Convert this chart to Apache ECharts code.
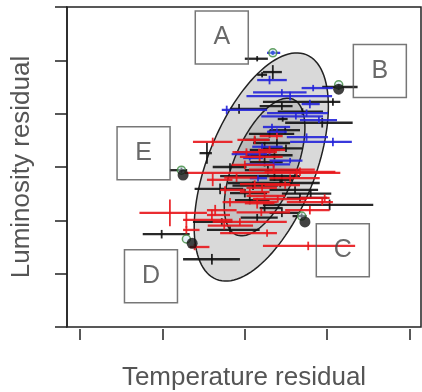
<!DOCTYPE html>
<html>
<head>
<meta charset="utf-8">
<script src="https://cdn.jsdelivr.net/npm/echarts@6/dist/echarts.min.js"></script>
<style>
html, body { margin: 0; padding: 0; background: #fff; }
#chart { width: 422px; height: 392px; }
</style>
</head>
<body>
<div id="chart"></div>
<script>
// x error bars with a short y error tick: [x, y, xLow, xHigh, yErr]
var blueBars = [
  [0.34, 2.14, 0.27, 0.43, 0.04],
  [0.30, 1.63, 0.15, 0.51, 0.08],
  [0.83, 1.48, 0.69, 1.07, 0.06],
  [0.45, 1.40, 0.10, 0.75, 0.06],
  [0.55, 1.33, 0.02, 1.06, 0.08],
  [0.79, 1.18, 0.69, 0.91, 0.08],
  [-0.22, 1.07, -0.28, 0.27, 0.08],
  [0.75, 1.01, 0.27, 1.01, 0.07],
  [0.62, 0.95, 0.20, 0.95, 0.06],
  [0.90, 0.88, 0.67, 1.12, 0.06],
  [0.33, 0.75, 0.22, 0.55, 0.06],
  [0.39, 0.66, 0.27, 0.51, 0.06],
  [0.75, 0.56, 0.51, 1.01, 0.07],
  [1.07, 0.47, 0.55, 1.30, 0.08],
  [0.21, 0.38, 0.09, 0.46, 0.06],
  [0.30, 0.28, -0.12, 0.34, 0.06],
  [0.02, 0.24, -0.16, 0.27, 0.07],
  [0.06, 0.17, -0.02, 0.22, 0.05],
  [0.55, 0.12, 0.30, 0.70, 0.05],
  [0.35, 0.05, 0.00, 0.55, 0.06],
  [0.16, -0.21, 0.06, 0.27, 0.06]
];
var redBars = [
  [-0.39, 0.47, -0.63, -0.15, 0.08],
  [0.39, 0.58, 0.18, 0.46, 0.06],
  [0.12, 0.51, -0.09, 0.30, 0.08],
  [0.30, 0.32, 0.16, 0.49, 0.07],
  [0.02, 0.28, -0.15, 0.39, 0.07],
  [0.18, 0.19, -0.06, 0.46, 0.08],
  [0.00, 0.04, -0.16, 0.36, 0.08],
  [0.35, -0.05, 0.05, 0.85, 0.08],
  [0.63, -0.11, -0.73, 1.16, 0.07],
  [0.67, -0.09, 0.24, 1.10, 0.08],
  [-0.10, -0.20, -0.25, 0.15, 0.08],
  [0.55, -0.21, 0.30, 0.91, 0.07],
  [-0.39, -0.24, -0.46, -0.15, 0.12],
  [0.12, -0.32, -0.06, 0.55, 0.07],
  [0.49, -0.34, 0.24, 0.67, 0.07],
  [0.21, -0.39, 0.02, 0.39, 0.08],
  [-0.24, -0.43, -0.30, 0.00, 0.07],
  [0.06, -0.47, -0.06, 0.30, 0.06],
  [0.24, -0.54, 0.02, 0.49, 0.06],
  [0.97, -0.58, 0.67, 1.03, 0.07],
  [0.40, -0.60, 0.10, 0.75, 0.07],
  [-0.18, -0.66, -0.27, 0.39, 0.08],
  [0.15, -0.68, 0.00, 0.36, 0.10],
  [0.94, -0.66, 0.51, 1.07, 0.06],
  [-0.36, -0.81, -0.46, -0.10, 0.10],
  [0.79, -0.81, 0.49, 1.03, 0.08],
  [0.20, -0.85, -0.10, 0.55, 0.07],
  [-0.91, -0.86, -1.28, -0.46, 0.25],
  [-0.40, -0.90, -0.46, -0.18, 0.10],
  [-0.71, -0.99, -0.75, -0.15, 0.15],
  [-0.06, -1.03, -0.39, 0.51, 0.07],
  [-0.25, -1.10, -0.45, 0.10, 0.07],
  [-0.71, -1.18, -0.75, -0.55, 0.07],
  [0.27, -1.24, -0.30, 0.39, 0.07],
  [0.77, -1.48, 0.22, 1.34, 0.08],
  [-0.61, -1.50, -0.67, -0.43, 0.06]
];
var blackBars = [
  [0.15, 2.03, 0.00, 0.28, 0.05],
  [0.34, 1.78, 0.22, 0.45, 0.13],
  [0.21, 1.73, 0.15, 0.27, 0.05],
  [1.14, 1.50, 0.94, 1.37, 0.05],
  [1.07, 1.22, 0.22, 1.16, 0.07],
  [0.45, 1.14, 0.18, 0.58, 0.07],
  [-0.07, 1.09, -0.18, 0.27, 0.09],
  [0.70, 1.04, 0.40, 0.95, 0.06],
  [0.46, 0.90, 0.40, 0.52, 0.05],
  [0.94, 0.83, 0.49, 1.31, 0.09],
  [0.49, 0.69, 0.30, 0.67, 0.07],
  [0.30, 0.62, 0.05, 0.60, 0.07],
  [0.12, 0.51, 0.00, 0.30, 0.06],
  [0.39, 0.45, 0.10, 0.55, 0.08],
  [0.50, 0.35, 0.20, 0.70, 0.07],
  [0.24, 0.32, 0.06, 0.43, 0.15],
  [-0.46, 0.26, -0.55, -0.40, 0.20],
  [0.36, 0.22, 0.02, 0.58, 0.08],
  [0.24, 0.09, 0.06, 0.46, 0.08],
  [-0.18, 0.00, -0.39, 0.02, 0.07],
  [-0.77, -0.06, -0.91, -0.70, 0.05],
  [0.28, -0.06, 0.00, 0.67, 0.08],
  [0.36, -0.17, -0.30, 0.67, 0.09],
  [0.45, -0.24, 0.30, 0.58, 0.10],
  [0.43, -0.30, -0.21, 0.91, 0.08],
  [0.10, -0.35, -0.15, 0.40, 0.08],
  [-0.30, -0.41, -0.61, -0.02, 0.10],
  [0.61, -0.43, 0.30, 0.89, 0.07],
  [0.00, -0.49, -0.18, 0.27, 0.08],
  [0.80, -0.50, 0.45, 1.05, 0.07],
  [0.67, -0.58, 0.51, 1.00, 0.09],
  [0.06, -0.62, -0.12, 0.30, 0.08],
  [1.03, -0.71, 0.22, 1.56, 0.10],
  [0.24, -0.77, 0.18, 0.46, 0.08],
  [0.45, -0.86, 0.30, 0.67, 0.08],
  [0.69, -0.92, 0.58, 0.75, 0.05],
  [0.15, -0.95, -0.05, 0.40, 0.07],
  [-0.28, -1.03, -0.63, -0.15, 0.07],
  [-0.18, -1.18, -0.46, 0.18, 0.07],
  [-1.01, -1.26, -1.24, -0.67, 0.08],
  [-0.40, -1.73, -0.75, -0.06, 0.10]
];
// highlighted stars
var outlierDots = [[1.14, 1.46], [-0.75, -0.15], [0.73, -1.03], [-0.64, -1.43]];
var greenRings = [[1.14, 1.54], [-0.77, -0.06], [0.69, -0.92], [-0.71, -1.35], [0.34, 2.14]];
// ellipses: [cx, cy, sx, sy, rho]
var ellipses = [
  [0.20, 0.00, 0.815, 2.14, 0.53],
  [0.24, 0.00, 0.49, 1.29, 0.57]
];
// label boxes
var boxLabels = ['A', 'B', 'C', 'D', 'E'];
var boxX = [-0.28, 1.64, 1.19, -1.14, -1.23];
var boxY = [2.43, 1.80, -1.56, -2.05, 0.26];
var xTicks = [-2, -1, 0, 1, 2];

var chart = echarts.init(document.getElementById('chart'));
var font = '"Liberation Sans", Arial, sans-serif';

var ellipseFills = [
  '#d9d9d9',
  new echarts.graphic.RadialGradient(0.5, 0.5, 0.5, [
    { offset: 0, color: '#a4a4a4' },
    { offset: 1, color: '#c4c4c4' }
  ])
];

function errorBars(name, color, data) {
  return {
    name: name,
    type: 'custom',
    silent: true,
    data: data,
    encode: { x: [0, 2, 3], y: 1 },
    renderItem: function (params, api) {
      var x = api.value(0), y = api.value(1);
      var lo = api.value(2), hi = api.value(3), e = api.value(4);
      var a = api.coord([lo, y]), b = api.coord([hi, y]);
      var t = api.coord([x, y + e]), u = api.coord([x, y - e]);
      return {
        type: 'group',
        children: [
          { type: 'line', shape: { x1: a[0], y1: a[1], x2: b[0], y2: b[1] }, style: { stroke: color, lineWidth: 2.3, opacity: 0.9 } },
          { type: 'line', shape: { x1: t[0], y1: t[1], x2: u[0], y2: u[1] }, style: { stroke: color, lineWidth: 1.8, opacity: 0.9 } }
        ]
      };
    }
  };
}

var option = {
  animation: false,
  backgroundColor: '#fff',
  grid: {
    left: 67, right: 1, top: 7, bottom: 65,
    show: true, borderColor: '#222', borderWidth: 1.5,
    containLabel: false, outerBoundsMode: 'none'
  },
  xAxis: {
    type: 'value',
    min: -2.16, max: 2.14,
    offset: 2,
    splitLine: { show: false },
    axisLine: { show: false, onZero: false },
    axisTick: { show: true, customValues: xTicks, length: 11, lineStyle: { color: '#222', width: 1.5 } },
    axisLabel: { show: false },
    name: 'Temperature residual',
    nameLocation: 'middle',
    nameGap: 36,
    nameTextStyle: { fontSize: 26, color: '#555', fontFamily: font }
  },
  yAxis: {
    type: 'value',
    min: -3, max: 3, interval: 1,
    splitLine: { show: false },
    axisLine: { show: true, onZero: false, lineStyle: { color: '#222', width: 1.5 } },
    axisTick: { show: true, length: 12, lineStyle: { color: '#222', width: 1.5 } },
    axisLabel: { show: false },
    name: 'Luminosity residual',
    nameLocation: 'middle',
    nameGap: 32,
    nameTextStyle: { fontSize: 26, color: '#555', fontFamily: font }
  },
  series: [
    {
      type: 'custom',
      silent: true,
      data: ellipses,
      encode: { x: 0, y: 1 },
      renderItem: function (params, api) {
        var cx = api.value(0), cy = api.value(1), sx = api.value(2), sy = api.value(3), r = api.value(4);
        var pts = [];
        for (var i = 0; i <= 120; i++) {
          var t = i / 120 * 2 * Math.PI;
          pts.push(api.coord([cx + sx * Math.cos(t), cy + sy * (r * Math.cos(t) + Math.sqrt(1 - r * r) * Math.sin(t))]));
        }
        return { type: 'polygon', shape: { points: pts }, style: { fill: ellipseFills[params.dataIndex], stroke: '#222', lineWidth: 1.5 } };
      }
    },
    errorBars('black', '#111', blackBars),
    errorBars('blue', '#2323d8', blueBars),
    errorBars('red', '#e8161b', redBars),
    {
      type: 'scatter',
      silent: true,
      symbol: 'circle',
      symbolSize: 8,
      data: greenRings,
      itemStyle: { color: 'rgba(200,225,240,0.6)', borderColor: '#3d8a3d', borderWidth: 1.5 }
    },
    {
      type: 'scatter',
      silent: true,
      symbolSize: 4,
      data: [greenRings[4]],
      itemStyle: { color: '#2a4fd8' }
    },
    {
      type: 'scatter',
      silent: true,
      symbolSize: 11,
      data: outlierDots,
      itemStyle: { color: '#111' }
    },
    {
      type: 'scatter',
      silent: true,
      symbol: 'rect',
      symbolSize: 53,
      data: boxLabels.map(function (n, i) { return { name: n, value: [boxX[i], boxY[i]] }; }),
      itemStyle: { color: 'rgba(255,255,255,0)', borderColor: '#555', borderWidth: 1.5 },
      label: { show: true, position: 'inside', formatter: '{b}', fontSize: 25, color: '#444', fontFamily: font }
    }
  ]
};
chart.setOption(option);
</script>
</body>
</html>
